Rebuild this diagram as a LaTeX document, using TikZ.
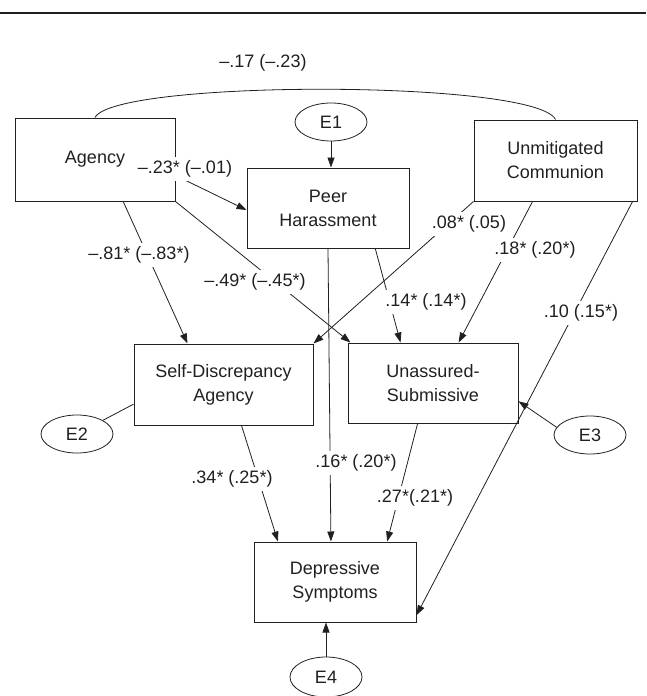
\documentclass[tikz,border=0pt]{standalone}
\usepackage{fontspec}
\setmainfont{Liberation Sans}
\usetikzlibrary{arrows.meta,calc,shapes.geometric}
\definecolor{ink}{RGB}{35,31,32}
\begin{document}
\begin{tikzpicture}[x=1pt,y=-1pt,
  every node/.style={font=\fontsize{18}{24}\selectfont, text=ink},
  box/.style={draw=ink, line width=1pt, rectangle, align=center, inner sep=0pt},
  err/.style={draw=ink, line width=0.8pt, ellipse, minimum width=72pt, minimum height=38pt, inner sep=0pt},
  conn/.style={draw=ink, line width=0.8pt},
  arr/.style={conn, -{Triangle[length=10pt,width=7pt]}},
  coef/.style={fill=white, inner sep=4pt}
]
\useasboundingbox (0,0) rectangle (646,696);
\draw[ink, line width=2.5pt] (0,13) -- (646,13);

% boxes
\node[box, minimum width=160pt, minimum height=83pt] (agency) at (95,159.5) {Agency};
\node[box, minimum width=162pt, minimum height=80pt] (peer) at (328,208) {Peer\\Harassment};
\node[box, minimum width=163pt, minimum height=81pt] (unmit) at (555.5,160.5) {Unmitigated\\Communion};
\node[box, minimum width=179pt, minimum height=81pt] (selfd) at (223.5,384.5) {Self-Discrepancy\\Agency};
\node[box, minimum width=170pt, minimum height=80pt] (unass) at (433,383) {Unassured-\\Submissive};
\node[box, minimum width=162pt, minimum height=80pt] (dep) at (335,582) {Depressive\\Symptoms};

% error terms
\node[err] (e1) at (331,122) {E1};
\node[err] (e2) at (77,434) {E2};
\node[err] (e3) at (590,435) {E3};
\node[err, minimum height=40pt] (e4) at (326,677) {E4};

% correlation
\draw[conn] (agency.north) .. controls +(20,-38) and +(-20,-40) .. (unmit.north);

% paths
\draw[arr] ($(agency.north east)!0.69!(agency.south east)$) -- ($(peer.north west)!0.525!(peer.south west)$);
\draw[arr] ($(agency.south west)!0.675!(agency.south east)$) -- ($(selfd.north west)!0.30!(selfd.north east)$);
\draw[arr] (agency.south east) -- ([xshift=3pt]unass.north west);
\draw[arr] (unmit.south west) -- (selfd.north east);
\draw[arr] ($(unmit.south west)!0.36!(unmit.south east)$) -- ($(unass.north west)!0.65!(unass.north east)$);
\draw[arr] ($(unmit.south west)!0.97!(unmit.south east)$) -- ($(dep.north east)!0.91!(dep.south east)$);
\draw[arr] (peer.south) -- ($(dep.north west)!0.475!(dep.north east)$);
\draw[arr] ($(peer.south west)!0.79!(peer.south east)$) -- ($(unass.north west)!0.31!(unass.north east)$);
\draw[arr] ($(selfd.south west)!0.60!(selfd.south east)$) -- ($(dep.north west)!0.15!(dep.north east)$);
\draw[arr] ($(unass.south west)!0.41!(unass.south east)$) -- ($(dep.north west)!0.82!(dep.north east)$);
\draw[arr] (e1.south) -- (e1.south |- peer.north);
\draw[conn] (e2) -- ($(selfd.north west)!0.74!(selfd.south west)$);
\draw[arr] (e3.167) -- ($(unass.north east)!0.725!(unass.south east)$);
\draw[arr] (e4.north) -- (e4.north |- dep.south);

% coefficients
\node[coef] (l17) at (263,63) {–.17 (–.23)};
\node[coef] (l23) at (185,169) {–.23* (–.01)};
\node[coef] (l81) at (139,255) {–.81* (–.83*)};
\node[coef] (l49) at (255,282) {–.49* (–.45*)};
\node[coef] (l08) at (469,224) {.08* (.05)};
\node[coef] (l18) at (535,250) {.18* (.20*)};
\node[coef] (l14) at (426,302) {.14* (.14*)};
\node[coef] (l10) at (581,313) {.10 (.15*)};
\node[coef] (l16) at (356,463) {.16* (.20*)};
\node[coef] (l34) at (232,479) {.34* (.25*)};
\node[coef] (l27) at (415,498) {.27*(.21*)};
\end{tikzpicture}
\end{document}
